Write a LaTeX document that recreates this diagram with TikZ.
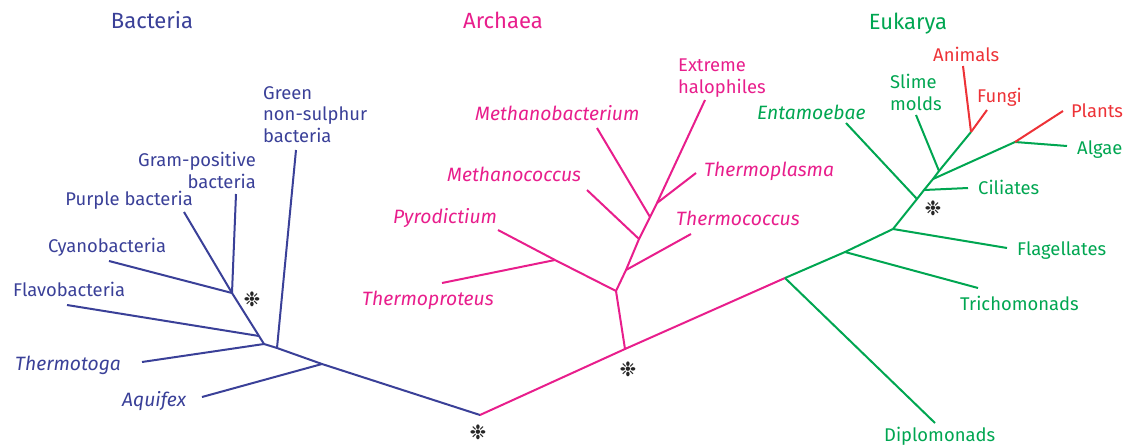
\documentclass[tikz,border=0pt]{standalone}
\usepackage{fontspec}
\setmainfont{Fira Sans}
\newfontfamily\symfont{DejaVu Sans}
\definecolor{bac}{RGB}{58,64,152}
\definecolor{arc}{RGB}{232,30,140}
\definecolor{euk}{RGB}{0,166,81}
\definecolor{eur}{RGB}{237,50,55}
\begin{document}
\begin{tikzpicture}[x=1pt,y=-1pt,
  br/.style={line width=2pt},
  lbl/.style={inner sep=0pt, font=\fontsize{18.4}{21.5}\selectfont},
  ilbl/.style={lbl, font=\fontsize{19.3}{21.5}\selectfont\itshape},
  ttl/.style={inner sep=0pt, font=\fontsize{22}{26}\selectfont, anchor=base},
  star/.style={inner sep=0pt, font=\symfont\fontsize{20}{20}\selectfont, text=black!85}]
\useasboundingbox (0,0) rectangle (1130,447);

% ---------- titles
\node[ttl, text=bac] (tb) at (152,28) {Bacteria};
\node[ttl, text=arc] (ta) at (503,28) {Archaea};
\node[ttl, text=euk] (te) at (908,29) {Eukarya};

% ---------- Bacteria
\coordinate (R) at (480,415);
\coordinate (B1) at (322,364);
\coordinate (B2) at (277,348);
\coordinate (B0) at (264,344);
\coordinate (B3) at (259,336);
\coordinate (B4) at (232,293);
\coordinate (eAqu) at (202,397);
\coordinate (eGre) at (296,150);
\coordinate (eThg) at (142,362);
\coordinate (eFla) at (67,305);
\coordinate (eCya) at (109,261);
\coordinate (ePur) at (184,212);
\coordinate (eGra) at (236,194);
\begin{scope}[br, draw=bac]
\draw (R) -- (B1) -- (B2) -- (B0) -- (B3) -- (B4);
\draw (B1) -- (eAqu);
\draw (B2) -- (eGre);
\draw (B0) -- (eThg);
\draw (B3) -- (eFla);
\draw (B4) -- (eCya);
\draw (B4) -- (ePur);
\draw (B4) -- (eGra);
\end{scope}
\begin{scope}[text=bac]
\node[lbl, align=left, anchor=north west] (lGre) at (263,86) {Green\\non-sulphur\\bacteria};
\node[lbl, align=right, anchor=north east] (lGra) at (256,152) {Gram-positive\\bacteria};
\node[lbl, anchor=base east] (lPur) at (193,205) {Purple bacteria};
\node[lbl, anchor=base west] (lCya) at (48,252) {Cyanobacteria};
\node[lbl, anchor=base west] (lFla) at (13,296) {Flavobacteria};
\node[ilbl, anchor=base west] (lThg) at (15,370) {Thermotoga};
\node[ilbl, anchor=base west] (lAqu) at (122,406) {Aquifex};
\end{scope}

% ---------- Archaea
\coordinate (A0) at (625,349);
\coordinate (E0) at (785,278);
\coordinate (A1) at (616,291);
\coordinate (P1) at (555,260);
\coordinate (A2) at (626,270);
\coordinate (A3) at (639,239);
\coordinate (A4) at (650,217);
\coordinate (A5) at (657,203);
\coordinate (ePyr) at (498,230);
\coordinate (eTpr) at (442,283);
\coordinate (eHal) at (705,100);
\coordinate (eTcc) at (691,234);
\coordinate (eMcc) at (587,190);
\coordinate (eMba) at (597,128);
\coordinate (eTpl) at (696,173);
\begin{scope}[br, draw=arc]
\draw (R) -- (A0) -- (E0);
\draw (A0) -- (A1);
\draw (A1) -- (P1) -- (ePyr);
\draw (P1) -- (eTpr);
\draw (A1) -- (A2) -- (A3) -- (A4) -- (A5) -- (eHal);
\draw (A2) -- (eTcc);
\draw (A3) -- (eMcc);
\draw (A4) -- (eMba);
\draw (A5) -- (eTpl);
\end{scope}
\begin{scope}[text=arc]
\node[lbl, align=left, anchor=north west] (lHal) at (678,59) {Extreme\\halophiles};
\node[ilbl, anchor=base west] (lMba) at (475,120) {Methanobacterium};
\node[ilbl, anchor=base west] (lMcc) at (447,181) {Methanococcus};
\node[ilbl, anchor=base west] (lPyr) at (393,223) {Pyrodictium};
\node[ilbl, anchor=base west] (lTpr) at (362,305) {Thermoproteus};
\node[ilbl, anchor=base west] (lTpl) at (704,176) {Thermoplasma};
\node[ilbl, anchor=base west] (lTcc) at (676,225) {Thermococcus};
\end{scope}

% ---------- Eukarya
\coordinate (E1) at (845,252);
\coordinate (E2) at (893,229);
\coordinate (G1) at (917,199);
\coordinate (G2) at (924,190);
\coordinate (G3) at (933,179);
\coordinate (G4) at (939,171);
\coordinate (G5) at (971,132);
\coordinate (G6) at (1015,142);
\coordinate (eDip) at (935,423);
\coordinate (eTri) at (978,288);
\coordinate (eFlg) at (1007,248);
\coordinate (eEnt) at (846,123);
\coordinate (eCil) at (968,188);
\coordinate (eAlg) at (1067,146);
\coordinate (ePla) at (1063,111);
\coordinate (eSli) at (916,115);
\coordinate (eAni) at (963,66);
\coordinate (eFun) at (987,110);
\begin{scope}[br, draw=euk]
\draw (E0) -- (E1) -- (E2) -- (G1) -- (G2) -- (G3) -- (G4) -- (G5);
\draw (E0) -- (eDip);
\draw (E1) -- (eTri);
\draw (E2) -- (eFlg);
\draw (G1) -- (eEnt);
\draw (G2) -- (eCil);
\draw (G3) -- (G6) -- (eAlg);
\draw (G4) -- (eSli);
\end{scope}
\begin{scope}[br, draw=eur]
\draw (G6) -- (ePla);
\draw (G5) -- (eAni);
\draw (G5) -- (eFun);
\end{scope}
\begin{scope}[text=euk]
\node[ilbl, anchor=base west] (lEnt) at (757,119) {Entamoebae};
\node[lbl, align=left, anchor=north west] (lSli) at (890,74) {Slime\\molds};
\node[lbl, anchor=base west] (lCil) at (978,194) {Ciliates};
\node[lbl, anchor=base west] (lAlg) at (1077,154) {Algae};
\node[lbl, anchor=base west] (lFlg) at (1017,255) {Flagellates};
\node[lbl, anchor=base west] (lTri) at (960,310) {Trichomonads};
\node[lbl, anchor=base west] (lDip) at (884,441) {Diplomonads};
\end{scope}
\begin{scope}[text=eur]
\node[lbl, anchor=base west] (lAni) at (933,61) {Animals};
\node[lbl, anchor=base west] (lFun) at (977,102) {Fungi};
\node[lbl, anchor=base west] (lPla) at (1071,117) {Plants};
\end{scope}

% ---------- asterisks
\node[star] (s1) at (252,299) {❉};
\node[star] (s2) at (478,432) {❉};
\node[star] (s3) at (628,369) {❉};
\node[star] (s4) at (933,208) {❉};
\end{tikzpicture}
\end{document}
